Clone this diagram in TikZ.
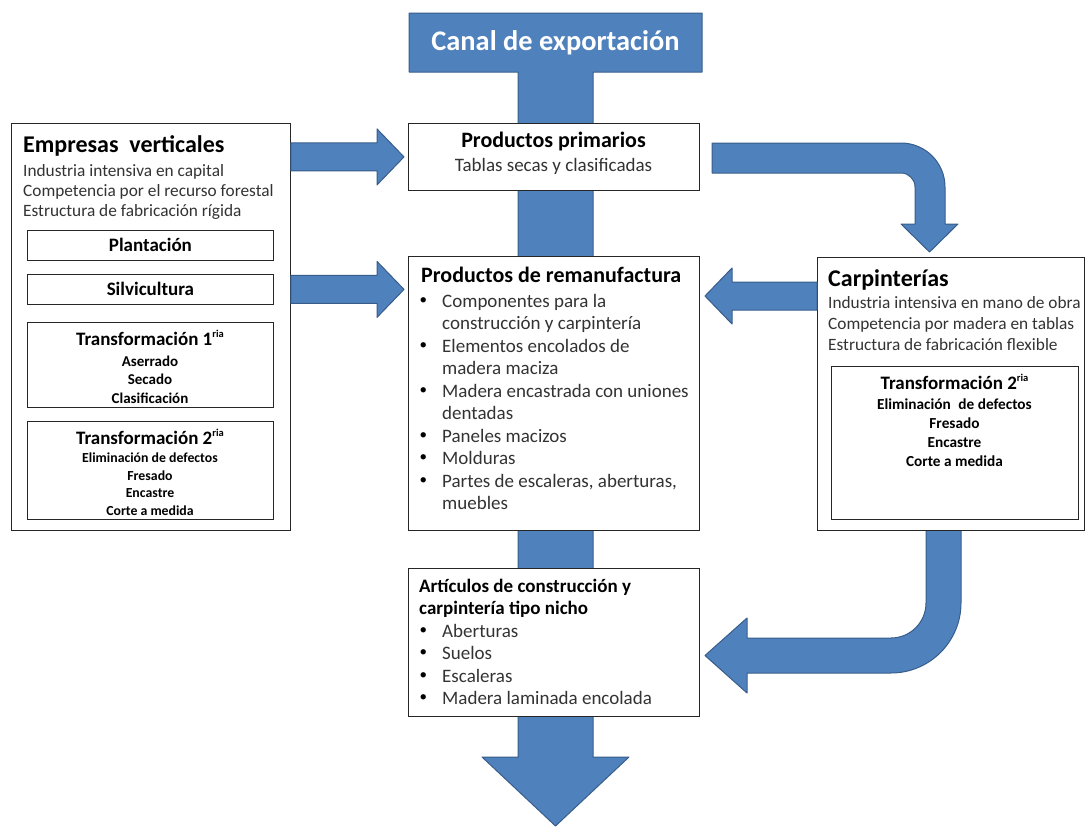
\documentclass[tikz,border=0pt]{standalone}
\usepackage{fontspec}
\setmainfont{Carlito}
\usetikzlibrary{calc}

\definecolor{flowblue}{HTML}{4F81BD}
\definecolor{flowedge}{HTML}{385D8A}

\newcommand{\ria}{\raisebox{0.42em}{\fontsize{10.5}{10.5}\selectfont ria}}
\newcommand{\bul}{\makebox[23pt][l]{\hspace{0.5pt}\raisebox{0.14em}{\color{black}\fontsize{15}{15}\selectfont\textbullet}}}
% straight block arrow: start, tip, signed head length
\newcommand{\hblock}[3]{%
  \filldraw[blockarrow] let \p1=(#1), \p2=(#2) in
    (\x1,{\y2+14pt}) -- ({\x2-(#3)},{\y2+14pt}) -- ({\x2-(#3)},{\y2+28pt})
    -- (\x2,\y2) -- ({\x2-(#3)},{\y2-28pt}) -- ({\x2-(#3)},{\y2-14pt})
    -- (\x1,{\y2-14pt}) -- cycle;}

\begin{document}
\begin{tikzpicture}[x=1pt, y=-1pt]

        % Define custom styles for boxes, arrows and texts
        \tikzset{
          box/.style={draw=black!85, fill=white, line width=0.8pt, anchor=north west, inner sep=0pt},
          blockarrow/.style={fill=flowblue, draw=flowedge, line width=1pt, line join=round},
          txt/.style={inner sep=0pt, anchor=base west},
          ctxt/.style={inner sep=0pt, anchor=base},
          bigtitle/.style={txt, font=\fontsize{24}{28}\selectfont\bfseries},
          midtitle/.style={font=\fontsize{22}{26}\selectfont\bfseries},
          bodytxt/.style={txt, text=black!80, font=\fontsize{17.3}{20}\selectfont},
          listtxt/.style={txt, text=black!80, font=\fontsize{19}{22}\selectfont},
          steptitle/.style={font=\fontsize{19}{22}\selectfont\bfseries},
          stepitem/.style={ctxt, font=\fontsize{13.8}{17}\selectfont\bfseries},
          sawitem/.style={ctxt, font=\fontsize{15}{18}\selectfont\bfseries},
          carpitem/.style={ctxt, font=\fontsize{15.3}{19}\selectfont\bfseries}
        }

        \useasboundingbox (0,0) rectangle (1088,827);

        % Export channel trunk
        \filldraw[blockarrow] (409,13) -- (702,13) -- (702,72) -- (593,72) -- (593,757)
          -- (629,757) -- (555.5,826) -- (482,757) -- (518,757) -- (518,72) -- (409,72) -- cycle;
        \node[ctxt, text=white, font=\fontsize{28.4}{32}\selectfont\bfseries] (canal) at (555.5,50) {Canal de exportación};

        % Bent arrows
        \filldraw[blockarrow] (712,143) -- (901,143) arc[start angle=270, end angle=360, radius=44]
          -- (945,224) -- (958,224) -- (929.5,252) -- (901,224) -- (915,224) -- (915,187)
          arc[start angle=0, end angle=-90, radius=14] -- (712,173) -- cycle;
        \filldraw[blockarrow] (926,528) -- (961,528) -- (961,603) arc[start angle=0, end angle=90, radius=70]
          -- (747,673) -- (747,693) -- (705,655.5) -- (747,618) -- (747,638) -- (891,638)
          arc[start angle=90, end angle=0, radius=35] -- cycle;

        % Vertical companies
        \node[box, minimum width=279pt, minimum height=407pt] (empresas) at (11,123) {};
        \node[bigtitle] (emptitle) at (23,152) {Empresas\hspace{0.45em}verticales};
        \node[bodytxt] (emp1) at (23,176) {Industria intensiva en capital};
        \node[bodytxt] (emp2) at (23,196) {Competencia por el recurso forestal};
        \node[bodytxt] (emp3) at (23,216) {Estructura de fabricación rígida};

        \node[box, steptitle, minimum width=246pt, minimum height=30pt] (plant) at (27,230) {Plantación};
        \node[box, steptitle, minimum width=246pt, minimum height=30pt] (silvi) at (27,274) {Silvicultura};

        \node[box, minimum width=246pt, minimum height=85pt] (trans1) at (27,322) {};
        \node[ctxt, steptitle] (t1title) at (150,345) {Transformación 1\ria};
        \node[sawitem] (t1a) at (150,366) {Aserrado};
        \node[sawitem] (t1b) at (150,384.5) {Secado};
        \node[sawitem] (t1c) at (150,403) {Clasificación};

        \node[box, minimum width=246pt, minimum height=98pt] (trans2) at (27,421) {};
        \node[ctxt, steptitle] (t2title) at (150,444) {Transformación 2\ria};
        \node[stepitem] (t2a) at (150,462.5) {Eliminación de defectos};
        \node[stepitem] (t2b) at (150,480) {Fresado};
        \node[stepitem] (t2c) at (150,497.5) {Encastre};
        \node[stepitem] (t2d) at (150,515) {Corte a medida};

        % Primary products
        \node[box, minimum width=291pt, minimum height=67pt] (primarios) at (408,123) {};
        \node[ctxt, midtitle] (primtitle) at (553.5,147) {Productos primarios};
        \node[ctxt, text=black!80, font=\fontsize{19}{22}\selectfont] (prim1) at (553.5,171) {Tablas secas y clasificadas};

        % Remanufactured products
        \node[box, minimum width=291pt, minimum height=274pt] (reman) at (408,256) {};
        \node[txt, midtitle] (remtitle) at (421,282) {Productos de remanufactura};
        \node[listtxt] (rem1) at (419,307) {\bul Componentes para la};
        \node[listtxt] (rem1b) at (442,329.5) {construcción y carpintería};
        \node[listtxt] (rem2) at (419,352) {\bul Elementos encolados de};
        \node[listtxt] (rem2b) at (442,374.5) {madera maciza};
        \node[listtxt] (rem3) at (419,397) {\bul Madera encastrada con uniones};
        \node[listtxt] (rem3b) at (442,419.5) {dentadas};
        \node[listtxt] (rem4) at (419,442) {\bul Paneles macizos};
        \node[listtxt] (rem5) at (419,464.5) {\bul Molduras};
        \node[listtxt] (rem6) at (419,487) {\bul Partes de escaleras, aberturas,};
        \node[listtxt] (rem6b) at (442,509.5) {muebles};

        % Niche articles
        \node[box, minimum width=291pt, minimum height=148pt] (articulos) at (408,568) {};
        \node[txt, steptitle] (arttitle) at (419,592) {Artículos de construcción y};
        \node[txt, steptitle] (arttitleb) at (419,614) {carpintería tipo nicho};
        \node[listtxt] (art1) at (419,637) {\bul Aberturas};
        \node[listtxt] (art2) at (419,659.5) {\bul Suelos};
        \node[listtxt] (art3) at (419,682) {\bul Escaleras};
        \node[listtxt] (art4) at (419,704.5) {\bul Madera laminada encolada};

        % Carpentries
        \node[box, minimum width=267pt, minimum height=273pt] (carp) at (817,257) {};
        \node[bigtitle] (carptitle) at (828,286) {Carpinterías};
        \node[bodytxt] (carp1) at (828,308) {Industria intensiva en mano de obra};
        \node[bodytxt] (carp2) at (828,329) {Competencia por madera en tablas};
        \node[bodytxt] (carp3) at (828,350) {Estructura de fabricación flexible};

        \node[box, minimum width=247pt, minimum height=153pt] (trans2c) at (831,366) {};
        \node[ctxt, steptitle] (ctitle) at (954.5,389) {Transformación 2\ria};
        \node[carpitem] (ca) at (954.5,409) {Eliminación\hspace{0.5em}de defectos};
        \node[carpitem] (cb) at (954.5,428) {Fresado};
        \node[carpitem] (cc) at (954.5,447) {Encastre};
        \node[carpitem] (cd) at (954.5,466) {Corte a medida};

        % Straight block arrows between boxes
        \coordinate (carptip) at (705,296);
        \hblock{empresas.east |- primarios.west}{$(primarios.west)+(-4,0)$}{27pt}
        \hblock{empresas.east |- silvi.east}{$(reman.west |- silvi.east)+(-4,0)$}{27pt}
        \hblock{carp.west |- carptip}{carptip}{-27pt}

\end{tikzpicture}
\end{document}
